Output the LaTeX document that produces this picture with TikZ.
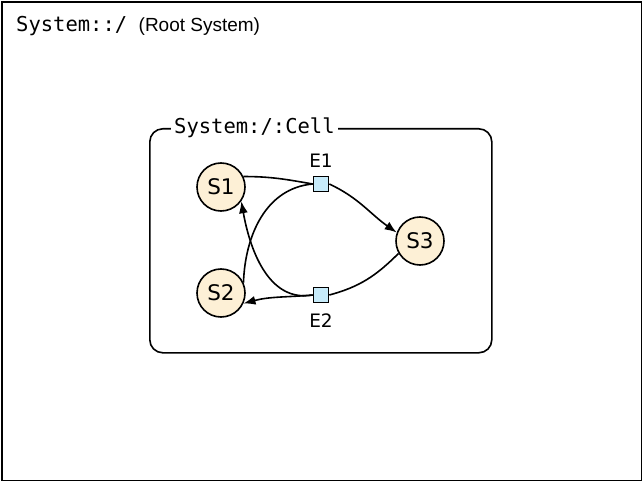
\documentclass[tikz,border=0pt]{standalone}
\usepackage{fontspec}
\setmainfont{Liberation Sans}
\setmonofont{DejaVu Sans Mono}
\newfontfamily\labfont{DejaVu Sans}
\usepackage{tikz}
\usetikzlibrary{arrows.meta,positioning}
\definecolor{cInk}{HTML}{000000}
\definecolor{cCream}{HTML}{FDF0D6}
\definecolor{cSky}{HTML}{C7EBFA}
\tikzset{
  place/.style={circle,draw=cInk,fill=cCream,line width=1.6pt,minimum size=48pt,inner sep=0pt,font=\labfont\fontsize{21.5}{21.5}\selectfont},
  trans/.style={rectangle,draw=cInk,fill=cSky,line width=1.6pt,minimum size=15pt,inner sep=0pt},
  tlbl/.style={font=\labfont\fontsize{18.5}{18.5}\selectfont,inner sep=0pt},
  path/.style={font=\ttfamily\fontsize{20.5}{20.5}\selectfont,inner sep=0pt},
  arc/.style={line width=1.6pt,color=cInk},
  arr/.style={arc,-{Latex[length=12pt,width=9pt]}},
}
\begin{document}
\begin{tikzpicture}[x=1pt,y=-1pt]
  \useasboundingbox (0,0) rectangle (642,481);
  % root system frame
  \node[draw=cInk,line width=1.3pt,minimum width=639.5pt,minimum height=478.5pt,inner sep=0pt,anchor=north west] (root) at (1.25,1.25) {};
  \node[path,anchor=base west] (rootname) at (16,32) {System::/};
  \node[right=11pt of rootname.base east,anchor=base west,font=\fontsize{19}{19}\selectfont,inner sep=0pt] (rootnote) {(Root System)};
  % cell
  \node[draw=cInk,line width=1.6pt,rounded corners=13pt,minimum width=342pt,minimum height=224pt,inner sep=0pt,anchor=north west] (cell) at (149,128) {};
  \node[path,fill=white,inner xsep=3pt,anchor=west] (celltitle) at (171,128) {System:/:Cell};
  % places and transitions
  \node[place] (S1) at (221,187) {S1};
  \node[place] (S2) at (221,293) {S2};
  \node[place] (S3) at (420,241) {S3};
  \node[trans] (E1) at (321,184) {};
  \node[trans] (E2) at (321,295) {};
  \node[tlbl,above=8pt of E1] (E1lbl) {E1};
  \node[tlbl,below=10pt of E2] (E2lbl) {E2};
  % arcs
  \draw[arc] (S1.25) to[out=0,in=170] (E1.west);
  \draw[arc] (S2.25) to[out=88,in=185] (E1.west);
  \draw[arr] (E1.east) to[out=-25,in=145] (S3.160);
  \draw[arc] (S3.210) to[out=225,in=15] (E2.east);
  \draw[arr] (E2.west) to[out=185,in=15] (S2.-25);
  \draw[arr] (E2.west) to[out=190,in=-80] (S1.-35);
\end{tikzpicture}
\end{document}
